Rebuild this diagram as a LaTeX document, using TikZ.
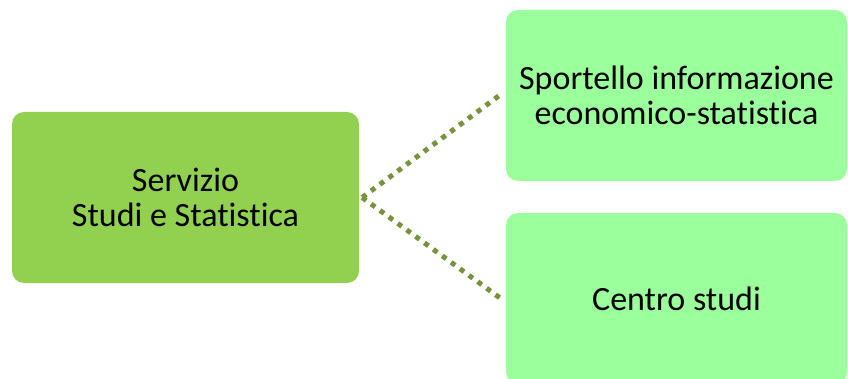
\documentclass[tikz,border=0pt]{standalone}
\usepackage{fontspec}
\setmainfont[Ligatures=NoCommon]{Carlito}
\definecolor{leftgreen}{HTML}{92D050}
\definecolor{rightgreen}{HTML}{9BFF9B}
\definecolor{linkgreen}{HTML}{77933C}
\begin{document}
\begin{tikzpicture}[x=1pt,y=-1pt,
  box/.style={rounded corners=12pt, inner sep=0pt, align=center, font=\fontsize{34}{35}\selectfont},
  link/.style={draw=linkgreen, line width=5pt, dash pattern=on 5pt off 6pt}]
\useasboundingbox (0,0) rectangle (848,379);
\clip (0,0) rectangle (848,379);
\node[box, fill=leftgreen, minimum width=347pt, minimum height=171pt] (main) at (185.5,197.5) {Servizio\\Studi e Statistica};
\node[box, fill=rightgreen, minimum width=341pt, minimum height=171pt] (sport) at (676.5,95.5) {Sportello informazione\\economico-statistica};
\node[box, fill=rightgreen, minimum width=341pt, minimum height=171pt] (centro) at (676.5,298.5) {Centro studi};
\coordinate (start) at ([xshift=3pt]main.east);
\coordinate (endA) at (500,95);
\coordinate (endB) at (500,298);
\draw[link] (start) -- (endA);
\draw[link] (start) -- (endB);
\end{tikzpicture}
\end{document}
